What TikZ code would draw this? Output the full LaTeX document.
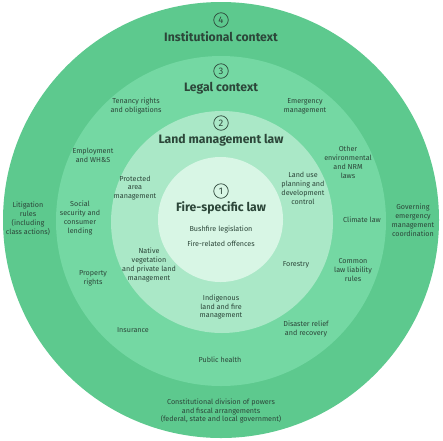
\documentclass[tikz,border=0pt]{standalone}
\usepackage{fontspec}
\setmainfont{Fira Sans}
\begin{document}
\begin{tikzpicture}[x=1pt,y=-1pt,
  ringfour/.style={fill=ring4col,draw=none},
  ringthree/.style={fill=ring3col,draw=none},
  ringtwo/.style={fill=ring2col,draw=none},
  ringone/.style={fill=ring1col,draw=none},
  item/.style={align=center,text=txtcol,font=\fontsize{7.2}{8.9}\selectfont,inner sep=0pt},
  title/.style={align=center,text=txtcol,font=\fontsize{12.2}{13}\selectfont\bfseries,inner sep=0pt},
  numcirc/.style={circle,draw=txtcol,line width=0.7pt,minimum size=14.5pt,inner sep=0pt,text=txtcol,font=\fontsize{9.5}{10}\selectfont}
]
\definecolor{ring4col}{RGB}{93,201,142}
\definecolor{ring3col}{RGB}{116,216,163}
\definecolor{ring2col}{RGB}{170,232,199}
\definecolor{ring1col}{RGB}{216,246,229}
\definecolor{txtcol}{RGB}{44,70,57}
\useasboundingbox (0,0) rectangle (443,440);
\fill[white] (0,0) rectangle (443,440);
\fill[ringfour] (221,220) circle (218);
\fill[ringthree] (221,221) circle (165);
\fill[ringtwo] (222,222) circle (111);
\fill[ringone] (220.5,219.5) circle (62.5);

% ring 4
\node[numcirc] (n4) at (221,20) {4};
\node[title] (t4) at (221,37) {Institutional context};
\node[item] (litig) at (28,219) {Litigation\\rules\\(including\\class actions)};
\node[item] (govern) at (413,220) {Governing\\emergency\\management\\coordination};
\node[item] (const) at (221,411) {Constitutional division of powers\\and fiscal arrangements\\(federal, state and local government)};

% ring 3
\node[numcirc] (n3) at (221,71) {3};
\node[title] (t3) at (221,88) {Legal context};
\node[item] (tenancy) at (136,106) {Tenancy rights\\and obligations};
\node[item] (emerg) at (305,106) {Emergency\\management};
\node[item] (employ) at (93,155) {Employment\\and WH\&S};
\node[item] (social) at (80,218) {Social\\security and\\consumer\\lending};
\node[item] (property) at (93,278) {Property\\rights};
\node[item] (insur) at (133,330) {Insurance};
\node[item] (health) at (220,360) {Public health};
\node[item] (disaster) at (306,329) {Disaster relief\\and recovery};
\node[item] (common) at (353,270) {Common\\law liability\\rules};
\node[item] (climate) at (362,220) {Climate law};
\node[item] (other) at (348,162) {Other\\environmental\\and NRM\\laws};

% ring 2
\node[numcirc] (n2) at (221,123) {2};
\node[title] (t2) at (221,140) {Land management law};
\node[item] (protect) at (135,188) {Protected\\area\\management};
\node[item] (landuse) at (303,188) {Land use\\planning and\\development\\control};
\node[item] (native) at (149,265) {Native\\vegetation\\and private land\\management};
\node[item] (forest) at (296,265) {Forestry};
\node[item] (indig) at (221,307) {Indigenous\\land and fire\\management};

% ring 1
\node[numcirc] (n1) at (221,191) {1};
\node[title] (t1) at (221,208) {Fire-specific law};
\node[item] (bush) at (221,229) {Bushfire legislation};
\node[item] (offence) at (221,244) {Fire-related offences};
\end{tikzpicture}
\end{document}
